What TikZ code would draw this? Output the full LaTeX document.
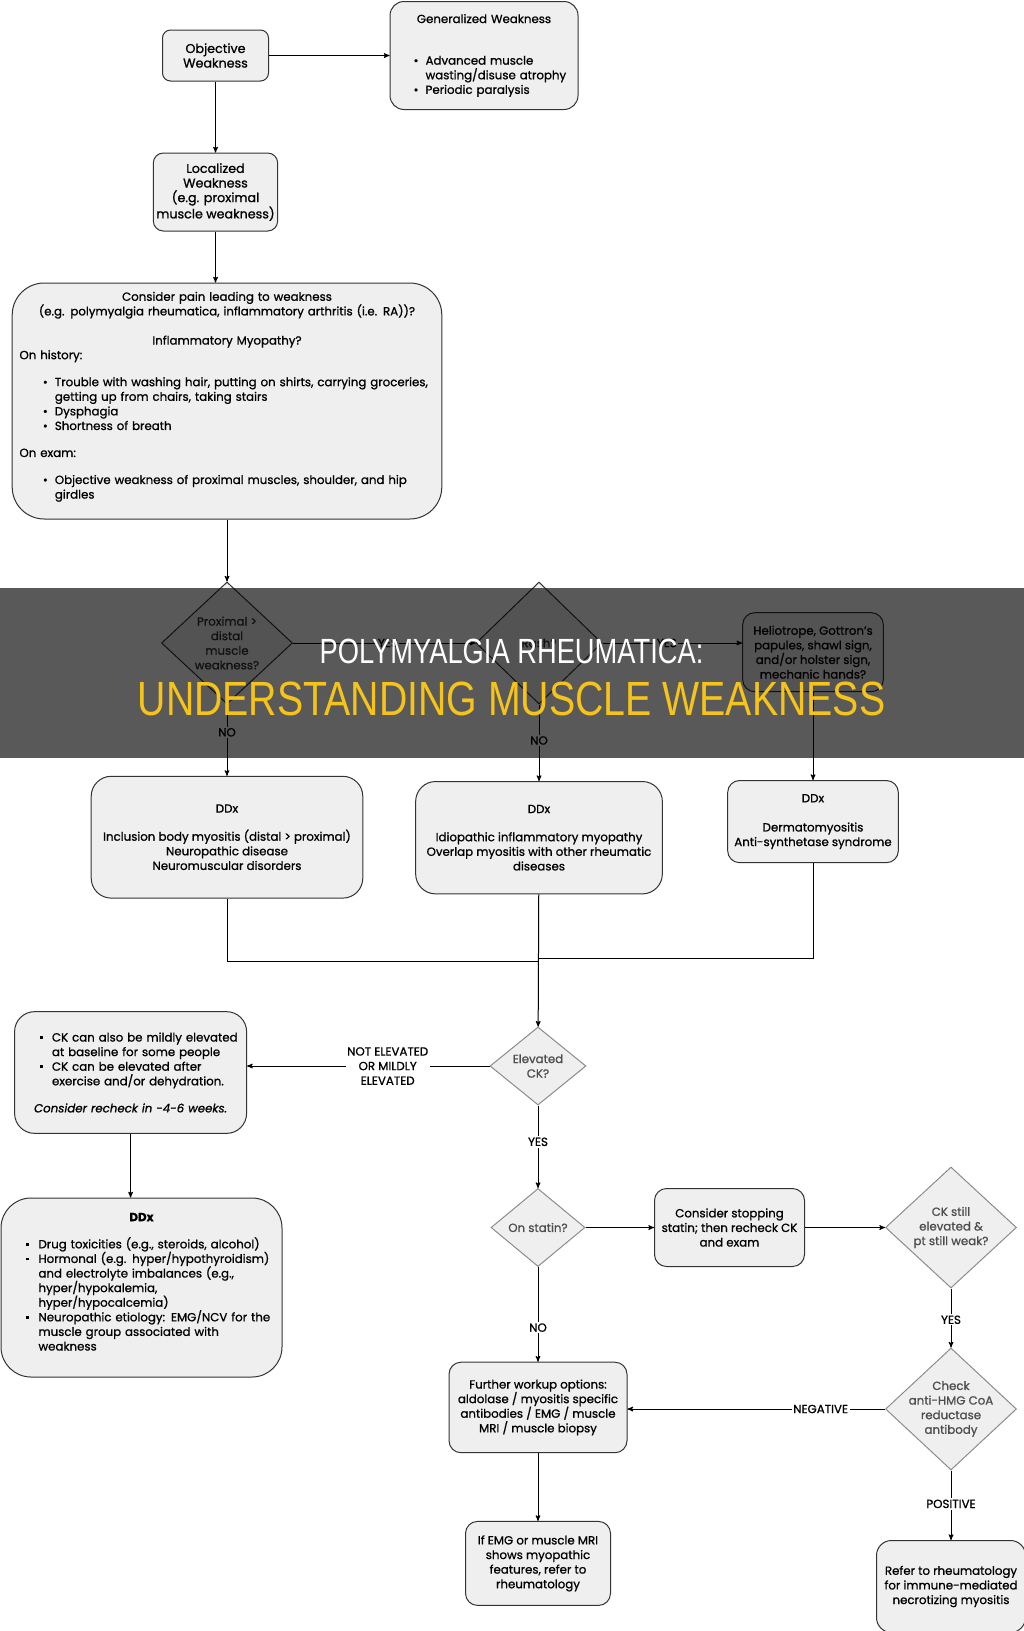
\documentclass[tikz,border=0pt]{standalone}
\usepackage{fontspec}
\usepackage{graphicx}
\usepackage{xcolor}
\usepackage{tikz}
\usetikzlibrary{arrows,positioning,shapes.geometric}

\setmainfont{Poppins}[FakeBold=0.9]
\newfontfamily\bannerfont{Liberation Sans}

\definecolor{boxfill}{HTML}{EFEFEF}
\definecolor{boxline}{HTML}{333333}
\definecolor{diamline}{HTML}{8C8C8C}
\definecolor{diamtext}{HTML}{4D4D4D}
\definecolor{titleyellow}{HTML}{F5C31A}

\newcommand{\boxfont}{\fontsize{11.8}{14.6}\selectfont}
\newcommand{\topfont}{\fontsize{12.7}{14.6}\selectfont}
\newcommand{\ctr}[1]{\makebox[\hsize]{#1}}
\newcommand{\bul}[1][20pt]{\hspace*{#1}\makebox[12pt][l]{\textbullet}}
\newcommand{\sbul}[1][20pt]{\hspace*{#1}\makebox[12pt][l]{\rule[2.8pt]{2.6pt}{2.6pt}}}
\newcommand{\cnt}[1][20pt]{\hspace*{#1}\hspace*{12pt}}

\begin{document}
\begin{tikzpicture}[x=1pt,y=-1pt,>=stealth',
    box node/.style={rectangle,rounded corners=10pt,draw=boxline,fill=boxfill,line width=1pt,align=center,font=\boxfont,text=black,inner sep=3pt},
    decision node/.style={diamond,draw=diamline,fill=boxfill,line width=1pt,align=center,font=\boxfont,text=diamtext,inner sep=-12pt},
    label node/.style={fill=white,inner sep=1.5pt,font=\boxfont,align=center}]
    \path[use as bounding box,fill=white] (0,0) rectangle (1024,1631);

    % top of the chart
    \node[box node,font=\topfont,minimum width=106pt,minimum height=51pt,rounded corners=8pt] (1) at (215.5,55.5) {Objective\\Weakness};
    \node[box node,rounded corners=14pt,text width=172pt,align=left,minimum height=108pt,inner xsep=8pt] (2) [right=120.5pt of 1]
      {\ctr{Generalized Weakness}\\[27pt]\bul[15.6pt]Advanced muscle\\\cnt[15.6pt]wasting/disuse atrophy\\\bul[15.6pt]Periodic paralysis};
    \node[box node,font=\topfont,minimum width=123pt,minimum height=78pt] (3) [below=71pt of 1] {Localized\\Weakness\\(e.g. proximal\\muscle weakness)};
    \node[box node,rounded corners=32pt,text width=415pt,align=left,minimum height=236pt,inner xsep=7.3pt] (4) at (227,401)
      {\ctr{Consider pain leading to weakness}\\
       \ctr{(e.g. polymyalgia rheumatica, inflammatory arthritis (i.e. RA))?}\\[14.6pt]
       \ctr{Inflammatory Myopathy?}\\
       On history:\\[12.4pt]
       \bul[23.4pt]Trouble with washing hair, putting on shirts, carrying groceries,\\
       \cnt[23.4pt]getting up from chairs, taking stairs\\
       \bul[23.4pt]Dysphagia\\
       \bul[23.4pt]Shortness of breath\\[12.4pt]
       On exam:\\[12.4pt]
       \bul[23.4pt]Objective weakness of proximal muscles, shoulder, and hip\\
       \cnt[23.4pt]girdles\\[-3pt]\mbox{}};

    % decisions on the pattern of weakness
    \node[decision node,draw=boxline,text=boxline,minimum width=131pt,minimum height=122pt] (5) at (227,643) {Proximal >\\distal\\muscle\\weakness?};
    \node[decision node,draw=boxline,text=boxline,minimum width=126pt,minimum height=122pt] (6) [right=182.5pt of 5] {Rash?};
    \node[box node,minimum width=140.6pt,minimum height=79pt,rounded corners=12pt] (7) at (813,652.2) {Heliotrope, Gottron’s\\papules, shawl sign,\\and/or holster sign,\\mechanic hands?};
    \node[box node,minimum width=271.6pt,minimum height=121.8pt,rounded corners=20pt] (8) [below=71.3pt of 5]
      {DDx\\[13.5pt]Inclusion body myositis (distal > proximal)\\Neuropathic disease\\Neuromuscular disorders};
    \node[box node,minimum width=246.7pt,minimum height=112.4pt,rounded corners=20pt] (9) [below=76.5pt of 6]
      {DDx\\[13.5pt]Idiopathic inflammatory myopathy\\Overlap myositis with other rheumatic\\diseases};
    \node[box node,minimum width=170.7pt,minimum height=82.2pt,rounded corners=12pt] (10) [below=87.8pt of 7]
      {DDx\\[14.5pt]Dermatomyositis\\Anti-synthetase syndrome};
    \coordinate (m1) at (538,961.6);
    \coordinate (m2) at (538,958.5);

    % CK work-up
    \node[decision node,minimum width=96pt,minimum height=78pt] (11) at (538,1066) {Elevated\\CK?};
    \node[box node,rounded corners=20pt,text width=216pt,align=left,minimum height=121.7pt,inner xsep=8pt] (12) at (130.6,1072.5)
      {\sbul[17.4pt]CK can also be mildly elevated\\
       \cnt[17.4pt]at baseline for some people\\
       \sbul[17.4pt]CK can be elevated after\\
       \cnt[17.4pt]exercise and/or dehydration.\\[12.5pt]
       \ctr{\itshape Consider recheck in -4-6 weeks.}};
    \node[box node,rounded corners=30pt,text width=265pt,align=left,minimum height=179pt,inner xsep=8pt] (13) at (141.5,1287.5)
      {\ctr{\bfseries DDx}\\[12.5pt]
       \sbul[17.5pt]Drug toxicities (e.g., steroids, alcohol)\\
       \sbul[17.5pt]Hormonal (e.g. hyper/hypothyroidism)\\
       \cnt[17.5pt]and electrolyte imbalances (e.g.,\\
       \cnt[17.5pt]hyper/hypokalemia,\\
       \cnt[17.5pt]hyper/hypocalcemia)\\
       \sbul[17.5pt]Neuropathic etiology: EMG/NCV for the\\
       \cnt[17.5pt]muscle group associated with\\
       \cnt[17.5pt]weakness\\[-3pt]\mbox{}};
    \node[decision node,minimum width=94pt,minimum height=78pt] (14) [below=82.5pt of 11] {On statin?};
    \node[box node,minimum width=150pt,minimum height=78pt,rounded corners=12pt] (15) [right=68.5pt of 14] {Consider stopping\\statin; then recheck CK\\and exam};
    \node[decision node,minimum width=131pt,minimum height=121pt] (16) [right=80pt of 15] {CK still\\elevated \&\\pt still weak?};
    \node[decision node,minimum width=131pt,minimum height=122pt] (17) [below=59pt of 16] {Check\\anti-HMG CoA\\reductase\\antibody};
    \node[box node,minimum width=178pt,minimum height=90.5pt,rounded corners=12pt] (18) [below=94.7pt of 14] {Further workup options:\\aldolase / myositis specific\\antibodies / EMG / muscle\\MRI / muscle biopsy};
    \node[box node,minimum width=145pt,minimum height=84pt,rounded corners=12pt] (19) [below=67.7pt of 18] {If EMG or muscle MRI\\shows myopathic\\features, refer to\\rheumatology};
    \node[box node,minimum width=149pt,minimum height=92pt,rounded corners=15pt] (20) [below=69.5pt of 17] {Refer to rheumatology\\for immune-mediated\\necrotizing myositis};

    \path[->,line width=1pt]
    (1) edge (2)
        edge (3)
    (3) edge (3.south |- 4.north)
    (4) edge (5)
    (5) edge node[label node,pos=0.52] {YES} (6)
        edge node[label node,pos=0.39] {NO} (8)
    (6) edge node[label node,pos=0.47] {NO} (9)
    (6.east) edge node[label node,pos=0.46] {YES} (6.east -| 7.west)
    (7) edge (10)
    (9) edge (11)
    (11) edge node[label node,pos=0.42] {NOT ELEVATED\\OR MILDLY\\ELEVATED} (11.west -| 12.east)
         edge node[label node,pos=0.44] {YES} (14)
    (12) edge (12.south |- 13.north)
    (14) edge (15)
         edge node[label node,pos=0.64] {NO} (18)
    (15) edge (16)
    (16) edge node[label node,pos=0.53] {YES} (17)
    (17.west) edge node[label node,pos=0.25] {NEGATIVE} (17.west -| 18.east)
    (17) edge node[label node,pos=0.48] {POSITIVE} (20)
    (18) edge (19);
    \draw[line width=1pt] (8.south) |- (m1);
    \draw[line width=1pt] (10.south) |- (m2);

    % title band
    \fill[black,opacity=0.65] (0,588) rectangle (1024,757.6);
    \node[text=white,font={\bannerfont\fontsize{35}{35}\selectfont},inner sep=0pt] (b1) at (511.5,651.5) {\scalebox{0.78}[1]{POLYMYALGIA RHEUMATICA:}};
    \node[text=titleyellow,font={\bannerfont\fontsize{48}{48}\selectfont},inner sep=0pt] (b2) at (511.5,699) {\scalebox{0.818}[1]{UNDERSTANDING MUSCLE WEAKNESS}};
\end{tikzpicture}
\end{document}
